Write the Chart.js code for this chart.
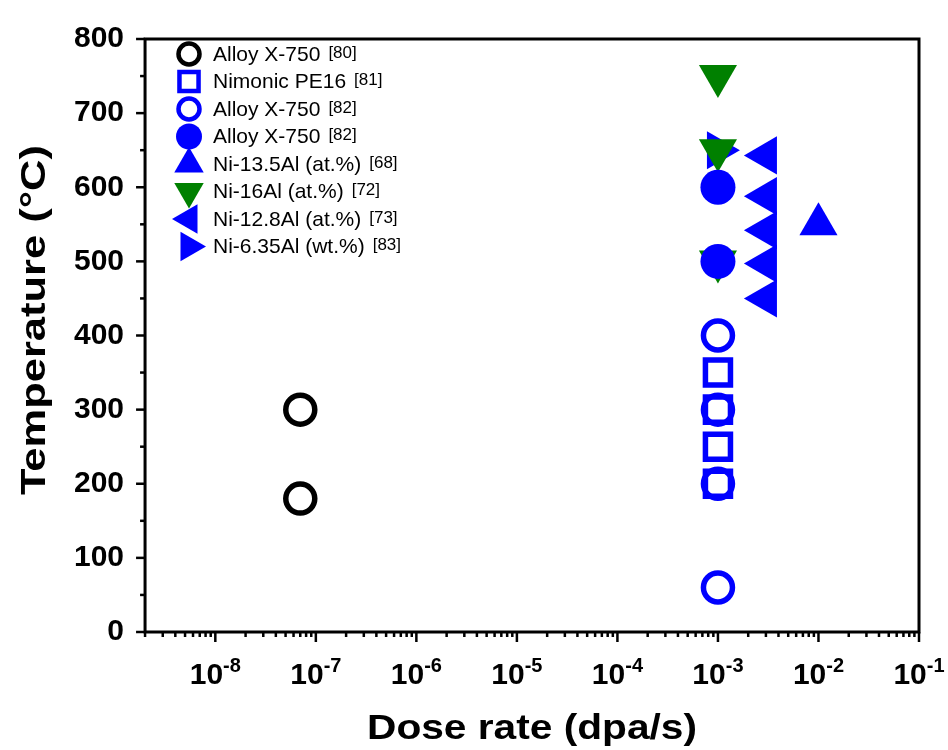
<!DOCTYPE html>
<html>
<head>
<meta charset="utf-8">
<script src="https://cdn.jsdelivr.net/npm/chart.js@4.4.1/dist/chart.umd.min.js"></script>
<style>
html,body{margin:0;padding:0;background:#fff;}
#wrap{width:948px;height:750px;}
</style>
</head>
<body>
<div id="wrap"><canvas id="c" width="948" height="750"></canvas></div>
<script>
// ---- data ----
const alloy80X = [7e-8, 7e-8];
const alloy80Y = [300, 180];
const nimonicX = [1e-3, 1e-3, 1e-3, 1e-3];
const nimonicY = [350, 300, 250, 200];
const alloy82OpenX = [1e-3, 1e-3, 1e-3, 1e-3];
const alloy82OpenY = [400, 300, 200, 60];
const alloy82FilledX = [1e-3, 1e-3];
const alloy82FilledY = [600, 500];
const ni135AlX = [1e-2];
const ni135AlY = [550];
const ni16AlX = [1e-3, 1e-3, 1e-3];
const ni16AlY = [750, 650, 500];
const ni128AlX = [3e-3, 3e-3, 3e-3, 3e-3, 3e-3];
const ni128AlY = [643, 588, 542, 497, 450];
const ni635AlX = [1e-3];
const ni635AlY = [650];

const seriesNames = ['Alloy X-750', 'Nimonic PE16', 'Alloy X-750', 'Alloy X-750',
  'Ni-13.5Al (at.%)', 'Ni-16Al (at.%)', 'Ni-12.8Al (at.%)', 'Ni-6.35Al (wt.%)'];
const seriesRefs = ['[80]', '[81]', '[82]', '[82]', '[68]', '[72]', '[73]', '[83]'];
const xTickExponents = [-8, -7, -6, -5, -4, -3, -2, -1];
const yTickValues = [0, 100, 200, 300, 400, 500, 600, 700, 800];

const pts = (xs, ys) => xs.map((x, i) => ({x: x, y: ys[i]}));
const BLUE = '#0000ff', GREEN = '#008000', BLACK = '#000000';

const datasets = [
  {data: pts(alloy80X, alloy80Y), pointStyle: 'circle', pointRadius: 14.5, pointBorderWidth: 5.5,
   borderColor: BLACK, backgroundColor: 'rgba(255,255,255,0)', legendR: 10.5, legendBW: 4.5},
  {data: pts(nimonicX, nimonicY), pointStyle: 'rect', pointRadius: 17.7, pointBorderWidth: 5.5,
   borderColor: BLUE, backgroundColor: 'rgba(255,255,255,0)', legendR: 13.5, legendBW: 4.5},
  {data: pts(alloy82OpenX, alloy82OpenY), pointStyle: 'circle', pointRadius: 14.5, pointBorderWidth: 5.5,
   borderColor: BLUE, backgroundColor: '#ffffff', legendR: 10.5, legendBW: 4.5},
  {data: pts(alloy82FilledX, alloy82FilledY), pointStyle: 'circle', pointRadius: 17.5, pointBorderWidth: 0,
   borderColor: BLUE, backgroundColor: BLUE, legendR: 13, legendBW: 0},
  {data: pts(ni135AlX, ni135AlY), pointStyle: 'triangle', pointRotation: 0, pointRadius: 22, pointBorderWidth: 0,
   borderColor: BLUE, backgroundColor: BLUE, legendR: 17, legendBW: 0},
  {data: pts(ni16AlX, ni16AlY), pointStyle: 'triangle', pointRotation: 180, pointRadius: 22, pointBorderWidth: 0,
   borderColor: GREEN, backgroundColor: GREEN, legendR: 17, legendBW: 0},
  {data: pts(ni128AlX, ni128AlY), pointStyle: 'triangle', pointRotation: -90, pointRadius: 22, pointBorderWidth: 0,
   borderColor: BLUE, backgroundColor: BLUE, legendR: 17, legendBW: 0},
  {data: pts(ni635AlX, ni635AlY), pointStyle: 'triangle', pointRotation: 90, pointRadius: 22, pointBorderWidth: 0,
   borderColor: BLUE, backgroundColor: BLUE, legendR: 17, legendBW: 0}
].map((d, i) => Object.assign({label: seriesNames[i] + ' ' + seriesRefs[i], showLine: false,
   pointBackgroundColor: d.backgroundColor, pointBorderColor: d.borderColor, pointHoverRadius: d.pointRadius}, d));

const FONT = '"Liberation Sans", Arial, sans-serif';

const decor = {
  id: 'decor',
  afterDraw(chart) {
    const ctx = chart.ctx;
    const a = chart.chartArea;
    const xs = chart.scales.x, ys = chart.scales.y;
    ctx.save();
    ctx.strokeStyle = '#000';
    ctx.lineWidth = 3;
    ctx.lineCap = 'butt';
    // frame
    ctx.strokeRect(a.left, a.top, a.right - a.left, a.bottom - a.top);
    // y ticks (major 100, minor 50)
    ctx.lineWidth = 2.5;
    for (let v = ys.min; v <= ys.max; v += 50) {
      const py = ys.getPixelForValue(v);
      const len = (v % 100 === 0) ? 9 : 5;
      ctx.beginPath(); ctx.moveTo(a.left, py); ctx.lineTo(a.left - len, py); ctx.stroke();
    }
    // x ticks (log, major decades, minor 2..9)
    for (let e = -10; e <= -1; e++) {
      for (let m = 1; m <= 9; m++) {
        const v = m * Math.pow(10, e);
        if (v < xs.min * 0.999 || v > xs.max * 1.001) continue;
        const px = xs.getPixelForValue(v);
        const len = (m === 1) ? 10 : 5;
        ctx.beginPath(); ctx.moveTo(px, a.bottom); ctx.lineTo(px, a.bottom + len); ctx.stroke();
      }
    }
    // x tick labels with superscripts
    ctx.fillStyle = '#000';
    ctx.textBaseline = 'alphabetic';
    ctx.textAlign = 'left';
    xTickExponents.forEach(n => {
      const px = xs.getPixelForValue(Math.pow(10, n));
      ctx.font = 'bold 30px ' + FONT;
      const w1 = ctx.measureText('10').width;
      ctx.font = 'bold 20px ' + FONT;
      const sup = '-' + Math.abs(n);
      const w2 = ctx.measureText(sup).width;
      const x0 = px - (w1 + w2) / 2;
      ctx.font = 'bold 30px ' + FONT;
      ctx.fillText('10', x0, 684);
      ctx.font = 'bold 20px ' + FONT;
      ctx.fillText(sup, x0 + w1, 672);
    });
    // axis titles (stretched horizontally like the reference)
    ctx.font = 'bold 35px ' + FONT;
    let t = 'Dose rate (dpa/s)';
    let tw = ctx.measureText(t).width;
    let sx = 330 / tw;
    ctx.save();
    ctx.translate((a.left + a.right) / 2, 739);
    ctx.scale(sx, 1);
    ctx.textAlign = 'center';
    ctx.fillText(t, 0, 0);
    ctx.restore();
    t = 'Temperature (°C)';
    tw = ctx.measureText(t).width;
    sx = 350 / tw;
    ctx.save();
    ctx.translate(45, 320);
    ctx.rotate(-Math.PI / 2);
    ctx.scale(sx, 1);
    ctx.textAlign = 'center';
    ctx.fillText(t, 0, 0);
    ctx.restore();
    // legend
    const lx = 189, tx = 213, ly0 = 54, dy = 27.5;
    chart.data.datasets.forEach((d, i) => {
      const y = ly0 + i * dy;
      ctx.fillStyle = d.backgroundColor;
      ctx.strokeStyle = d.borderColor;
      ctx.lineWidth = d.legendBW;
      Chart.helpers.drawPoint(ctx, {pointStyle: d.pointStyle, rotation: d.pointRotation || 0,
        radius: d.legendR, borderWidth: d.legendBW}, lx, y);
      ctx.fillStyle = '#000';
      ctx.textAlign = 'left';
      ctx.textBaseline = 'middle';
      ctx.font = '21px ' + FONT;
      ctx.fillText(seriesNames[i], tx, y + 1);
      const w = ctx.measureText(seriesNames[i]).width;
      ctx.font = '17px ' + FONT;
      ctx.fillText(seriesRefs[i], tx + w + 8, y - 1);
    });
    ctx.restore();
  }
};

new Chart(document.getElementById('c'), {
  type: 'scatter',
  data: {datasets: datasets},
  plugins: [decor],
  options: {
    responsive: false,
    animation: false,
    events: [],
    layout: {padding: {left: 53, right: 29, top: 24, bottom: 118}},
    plugins: {legend: {display: false}, tooltip: {enabled: false}, title: {display: false}},
    scales: {
      x: {
        type: 'logarithmic', min: 2e-9, max: 0.1,
        grid: {display: false, drawTicks: false},
        border: {display: false},
        ticks: {display: false}
      },
      y: {
        type: 'linear', min: 0, max: 800,
        afterBuildTicks: (s) => { s.ticks = yTickValues.map(v => ({value: v})); },
        grid: {display: false, drawTicks: false},
        border: {display: false},
        ticks: {color: '#000', padding: 21, font: {family: FONT, size: 30, weight: 'bold'}}
      }
    }
  }
});
</script>
</body>
</html>
